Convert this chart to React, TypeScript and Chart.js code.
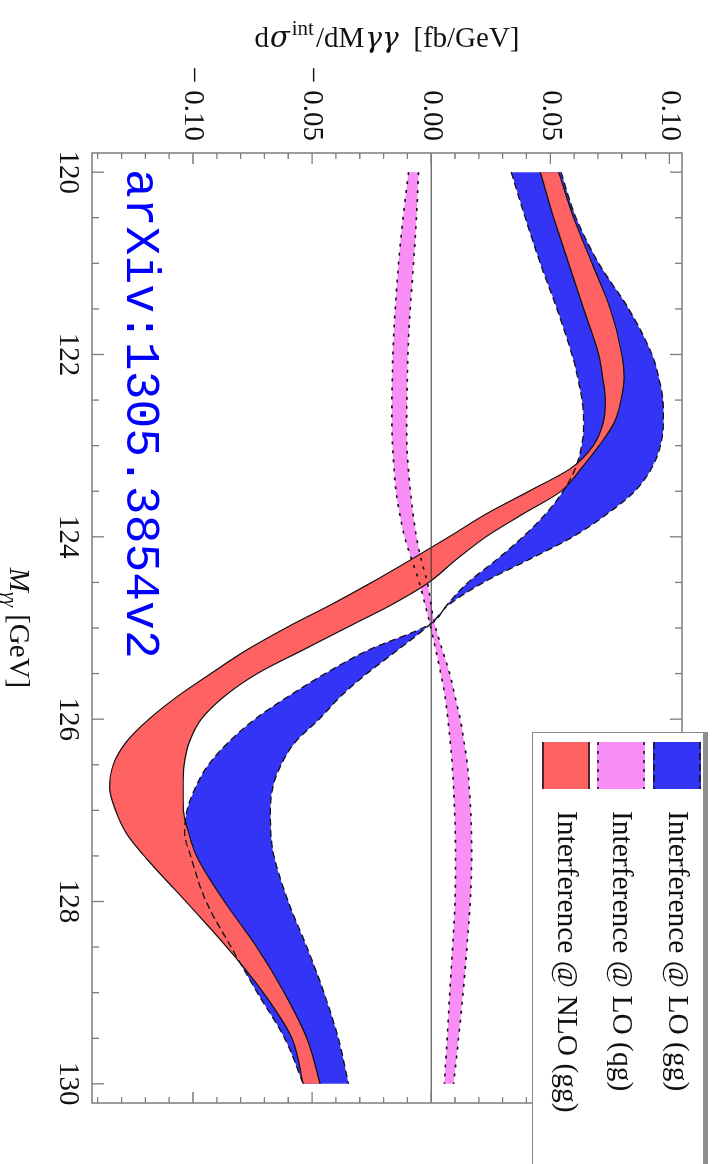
import React, { useEffect, useRef } from 'react';
import { Chart, registerables } from 'chart.js';

Chart.register(...registerables);

// ---- data ----
const mass = [120, 120.5, 121, 121.5, 122, 122.25, 122.5, 122.75, 123, 123.25, 123.5, 123.75, 124, 124.25, 124.5, 124.75, 124.95, 125.25, 125.5, 125.75, 126, 126.25, 126.5, 126.75, 127, 127.25, 127.5, 128, 128.5, 129, 129.5, 130];

const loGgHigh = [0.0545, 0.0608, 0.0703, 0.0829, 0.0927, 0.0955, 0.0973, 0.0975, 0.0962, 0.0925, 0.0855, 0.0738, 0.0595, 0.0410, 0.0220, 0.0072, 0.0, -0.0145, -0.0270, -0.0380, -0.0470, -0.0570, -0.0630, -0.0665, -0.0675, -0.0673, -0.0660, -0.0600, -0.0522, -0.0450, -0.0390, -0.0347];
const loGgLow = [0.0336, 0.0395, 0.0458, 0.0528, 0.0591, 0.0615, 0.0633, 0.0640, 0.0632, 0.0605, 0.0554, 0.0480, 0.0385, 0.0275, 0.0155, 0.0065, 0.0, -0.0270, -0.0445, -0.0600, -0.0740, -0.0850, -0.0935, -0.0990, -0.1025, -0.1035, -0.1010, -0.0945, -0.0840, -0.0730, -0.0615, -0.0537];

const loQgHigh = [-0.0053, -0.0062, -0.0074, -0.0088, -0.0098, -0.0100, -0.0102, -0.0103, -0.0102, -0.0096, -0.0087, -0.0076, -0.0062, -0.0042, -0.0016, 0.0000, 0.0014, 0.0048, 0.0078, 0.0100, 0.0122, 0.0138, 0.0152, 0.0160, 0.0166, 0.0169, 0.0170, 0.0164, 0.0150, 0.0134, 0.0115, 0.0094];
const loQgLow = [-0.0095, -0.0118, -0.0137, -0.0151, -0.0161, -0.0163, -0.0165, -0.0165, -0.0162, -0.0156, -0.0148, -0.0132, -0.0112, -0.0082, -0.0050, -0.0025, -0.0006, 0.0020, 0.0040, 0.0058, 0.0070, 0.0080, 0.0088, 0.0094, 0.0098, 0.0101, 0.0102, 0.0100, 0.0090, 0.0078, 0.0067, 0.0055];

const nloGgHigh = [0.0535, 0.0598, 0.0675, 0.0752, 0.0800, 0.0810, 0.0797, 0.0768, 0.0705, 0.0630, 0.0545, 0.0385, 0.0230, 0.0105, -0.0010, -0.0170, -0.0320, -0.0545, -0.0730, -0.0868, -0.0965, -0.1015, -0.1037, -0.1041, -0.1040, -0.1018, -0.0985, -0.0868, -0.0732, -0.0617, -0.0522, -0.0466];
const nloGgLow = [0.0458, 0.0514, 0.0577, 0.0640, 0.0703, 0.0720, 0.0731, 0.0722, 0.0680, 0.0585, 0.0410, 0.0230, 0.0075, -0.0085, -0.0250, -0.0425, -0.0575, -0.0780, -0.0925, -0.1065, -0.1185, -0.1280, -0.1335, -0.1350, -0.1325, -0.1280, -0.1205, -0.1030, -0.0858, -0.0705, -0.0585, -0.0537];

const legendLabels = ['Interference @ LO (gg)', 'Interference @ LO (qg)', 'Interference @ NLO (gg)'];
const xTickValues = [120, 122, 124, 126, 128, 130];
const yTickValues = [-0.1, -0.05, 0, 0.05, 0.1];
const watermark = 'arXiv:1305.3854v2';

// ---- styling ----
const W = 1164;
const H = 715;
const BLUE = '#3434F6';
const PINK = '#F98EF6';
const RED = '#FE6262';
const FRAME = '#7c7c7c';
const SERIF = '"Liberation Serif", "Times New Roman", serif';
const GREEK = '"DejaVu Serif", "Liberation Serif", serif';

const fmtY = (v: number) => (v < 0 ? '\u2212 ' : '') + Math.abs(v).toFixed(2);

function band(data: number[], color: string, fill: any, dash: number[], label: string, width = 1.2) {
  return {
    label,
    data: mass.map((m, i) => ({ x: m, y: data[i] })),
    borderColor: '#111111',
    borderWidth: width,
    borderDash: dash,
    backgroundColor: color,
    fill,
    pointRadius: 0,
    pointHoverRadius: 0,
    cubicInterpolationMode: 'monotone' as const,
  };
}

function drawParts(ctx: any, parts: { t: string; f: string; dy: number; gap?: number }[], cx: number, by: number) {
  let total = 0;
  parts.forEach((p) => { ctx.font = p.f; total += ctx.measureText(p.t).width + (p.gap || 0); });
  let xx = cx - total / 2;
  parts.forEach((p) => {
    ctx.font = p.f;
    ctx.fillText(p.t, xx, by + p.dy);
    xx += ctx.measureText(p.t).width + (p.gap || 0);
  });
}

const decorPlugin = {
  id: 'decor',
  afterDatasetsDraw(chart: any) {
    const { ctx, chartArea: ca } = chart;
    const xs = chart.scales.x;
    const ys = chart.scales.y;
    ctx.save();
    // zero line
    const y0 = ys.getPixelForValue(0);
    ctx.strokeStyle = '#333';
    ctx.lineWidth = 1;
    ctx.beginPath();
    ctx.moveTo(ca.left, y0);
    ctx.lineTo(ca.right, y0);
    ctx.stroke();
    // ticks (inward, all four sides)
    ctx.strokeStyle = FRAME;
    ctx.lineWidth = 1.3;
    ctx.beginPath();
    for (let i = 240; i <= 260; i++) {
      const m = i / 2;
      const px = xs.getPixelForValue(m);
      const len = i % 4 === 0 ? 12 : 7;
      ctx.moveTo(px, ca.bottom);
      ctx.lineTo(px, ca.bottom - len);
      ctx.moveTo(px, ca.top);
      ctx.lineTo(px, ca.top + len);
    }
    for (let i = -14; i <= 10; i++) {
      const v = i / 100;
      const py = ys.getPixelForValue(v);
      const len = i % 5 === 0 ? 11 : 6;
      ctx.moveTo(ca.left, py);
      ctx.lineTo(ca.left + len, py);
      ctx.moveTo(ca.right, py);
      ctx.lineTo(ca.right - len, py);
    }
    ctx.stroke();
    ctx.lineWidth = 1.5;
    ctx.strokeRect(ca.left, ca.top, ca.right - ca.left, ca.bottom - ca.top);
    ctx.restore();
  },
  afterDraw(chart: any) {
    const { ctx, chartArea: ca } = chart;
    ctx.save();
    ctx.fillStyle = '#111';
    ctx.textBaseline = 'alphabetic';

    // y axis title (rotated)
    const cy = (ca.top + ca.bottom) / 2;
    ctx.translate(47, cy);
    ctx.rotate(-Math.PI / 2);
    drawParts(ctx, [
      { t: 'd', f: `29px ${SERIF}`, dy: 0, gap: 1 },
      { t: '\u03C3', f: `italic 29px ${GREEK}`, dy: 0, gap: 2 },
      { t: 'int', f: `21px ${SERIF}`, dy: -12, gap: 2 },
      { t: '/dM', f: `29px ${SERIF}`, dy: 0, gap: 1 },
      { t: '\u03B3\u03B3', f: `italic 28px ${GREEK}`, dy: 0 },
      { t: '  [fb/GeV]', f: `29px ${SERIF}`, dy: 0 },
    ], 0, 0);
    ctx.setTransform(1, 0, 0, 1, 0, 0);

    // x axis title
    const cx = (ca.left + ca.right) / 2;
    drawParts(ctx, [
      { t: 'M', f: `italic 29px ${SERIF}`, dy: 0 },
      { t: '\u03B3\u03B3', f: `italic 19px ${SERIF}`, dy: 6 },
      { t: ' [GeV]', f: `29px ${SERIF}`, dy: 0 },
    ], cx, 705);

    // watermark
    ctx.fillStyle = '#0000FF';
    ctx.font = '48px "Liberation Mono", "DejaVu Sans Mono", monospace';
    ctx.fillText(watermark, 169, 588);

    // legend
    const lx = 732;
    const ly = 7;
    ctx.fillStyle = '#ffffff';
    ctx.fillRect(lx, ly, W - lx + 10, 182 - ly);
    ctx.strokeStyle = '#8a8a8a';
    ctx.lineWidth = 1;
    ctx.strokeRect(lx + 0.5, ly + 0.5, W, 182 - ly);
    ctx.fillStyle = '#8e8e8e';
    ctx.fillRect(lx, ly, W - lx + 10, 5);
    const dsIdx = [4, 2, 0];
    const rowTop = [14, 70, 125];
    const baselines = [46, 101.7, 156.7];
    dsIdx.forEach((di, r) => {
      const ds = chart.data.datasets[di];
      const sx = 742;
      const sw = 47;
      const sh = 48;
      const st = rowTop[r];
      ctx.fillStyle = ds.backgroundColor;
      ctx.fillRect(sx, st, sw, sh);
      ctx.strokeStyle = '#111';
      ctx.lineWidth = 1.5;
      ctx.setLineDash(ds.borderDash);
      ctx.beginPath();
      ctx.moveTo(sx, st + 1);
      ctx.lineTo(sx + sw, st + 1);
      ctx.moveTo(sx, st + sh - 1);
      ctx.lineTo(sx + sw, st + sh - 1);
      ctx.stroke();
      ctx.setLineDash([]);
      ctx.fillStyle = '#111';
      ctx.font = `29.5px ${SERIF}`;
      ctx.fillText(legendLabels[r], 811, baselines[r]);
    });
    ctx.restore();
  },
};

export default function App() {
  const ref = useRef<HTMLCanvasElement | null>(null);

  useEffect(() => {
    if (!ref.current) return;
    const chart = new Chart(ref.current, {
      type: 'line',
      data: {
        datasets: [
          band(nloGgHigh, RED, '+1', [], legendLabels[2]),
          band(nloGgLow, RED, false, [], legendLabels[2]),
          band(loQgHigh, PINK, '+1', [3, 6], legendLabels[1], 1.6),
          band(loQgLow, PINK, false, [3, 6], legendLabels[1], 1.6),
          band(loGgHigh, BLUE, '+1', [7, 4], legendLabels[0], 1.3),
          band(loGgLow, BLUE, false, [7, 4], legendLabels[0], 1.3),
        ] as any,
      },
      options: {
        responsive: false,
        maintainAspectRatio: false,
        animation: false,
        devicePixelRatio: 1,
        layout: { padding: { top: 33, right: 61, left: 0, bottom: 0 } },
        plugins: {
          legend: { display: false },
          tooltip: { enabled: false },
          filler: { drawTime: 'beforeDatasetsDraw', propagate: false },
        } as any,
        scales: {
          x: {
            type: 'linear',
            min: 119.79,
            max: 130.21,
            afterBuildTicks: (s: any) => { s.ticks = xTickValues.map((v) => ({ value: v })); },
            afterFit: (s: any) => { s.height = 92; },
            grid: { display: false, drawTicks: false },
            border: { display: false },
            ticks: {
              autoSkip: false,
              maxRotation: 0,
              padding: 7,
              color: '#111',
              font: { family: SERIF, size: 29 },
              callback: (v: any) => String(v),
            },
          },
          y: {
            type: 'linear',
            min: -0.1424,
            max: 0.1053,
            afterBuildTicks: (s: any) => { s.ticks = yTickValues.map((v) => ({ value: v })); },
            afterFit: (s: any) => { s.width = 153; },
            grid: { display: false, drawTicks: false },
            border: { display: false },
            ticks: {
              autoSkip: false,
              padding: 12,
              color: '#111',
              font: { family: SERIF, size: 29 },
              callback: (v: any) => fmtY(Number(v)),
            },
          },
        } as any,
      },
      plugins: [decorPlugin],
    });
    return () => chart.destroy();
  }, []);

  return (
    <div style={{ position: 'fixed', left: 0, top: 0, width: 715, height: 1164, overflow: 'hidden', background: '#fff' }}>
      <div
        style={{
          position: 'absolute',
          left: 0,
          top: 0,
          width: W,
          height: H,
          transformOrigin: '0 0',
          transform: 'translate(715px, 0px) rotate(90deg)',
        }}
      >
        <canvas ref={ref} width={W} height={H} style={{ width: W, height: H, display: 'block' }} />
      </div>
    </div>
  );
}
